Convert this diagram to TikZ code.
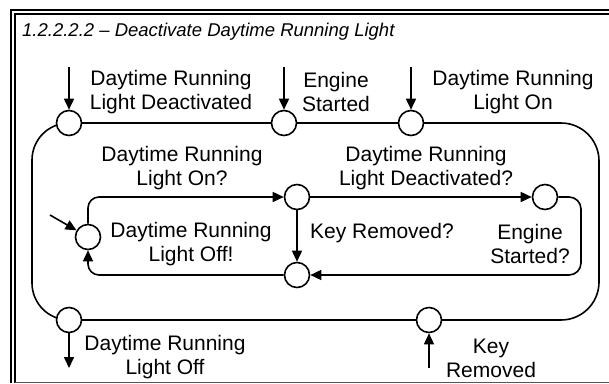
\documentclass[tikz,border=0pt]{standalone}
\usepackage{fontspec}
\setmainfont{Liberation Sans}
\usetikzlibrary{arrows.meta,backgrounds}
\definecolor{frameGray}{HTML}{555555}

\begin{document}
\begin{tikzpicture}[
    x=1pt, y=-1pt,
    st/.style={circle, draw, fill=white, line width=1.6pt, minimum size=25pt, inner sep=0pt},
    lbl/.style={font=\fontsize{21}{24}\selectfont, align=center, inner sep=0pt},
    flow/.style={line width=1.6pt, -{Triangle[length=11pt,width=10pt]}},
    wire/.style={line width=1.6pt},
]
\useasboundingbox (0,0) rectangle (609,383);
\draw[line width=1.8pt] (11,383) -- (11,10) -- (609,10);
\draw[line width=1.8pt] (15,383) -- (15,13.7) -- (609,13.7);
\draw[frameGray, line width=1pt] (15,382.3) -- (609,382.3);
\node[font={\fontsize{18.5}{21}\selectfont\itshape}, anchor=base west, inner sep=0pt] (title) at (22,36) {1.2.2.2.2 \textendash\ Deactivate Daytime Running Light};

\node[st] (dRLDeact) at (69,123) {};
\node[st] (engStart) at (284,123) {};
\node[st] (dRLOn) at (411,123) {};
\node[st] (dRLOff) at (69,320) {};
\node[st] (keyRem) at (429,320) {};
\node[st] (lightOff) at (88,237) {};
\node[st] (chkOn) at (297,197) {};
\node[st] (chkDeact) at (545,197) {};
\node[st] (chkKey) at (297,275) {};

\coordinate (inDeact) at (69,67);
\coordinate (inStart) at (284,67);
\coordinate (inOn) at (411,67);
\coordinate (outOff) at (69,368);
\coordinate (inKey) at (429,368);
\coordinate (init) at (50,215);

\begin{scope}[on background layer]
\draw[wire, rounded corners=38pt] (dRLDeact.center) -- (599,123) -- (599,320) -- (dRLOff.center);
\draw[wire, rounded corners=37pt] (dRLOff.center) -- (32,320) -- (32,123) -- (dRLDeact.center);
\end{scope}

\draw[flow] (inDeact) -- (dRLDeact);
\draw[flow] (inStart) -- (engStart);
\draw[flow] (inOn) -- (dRLOn);
\draw[flow] (dRLOff) -- (outOff);
\draw[flow] (inKey) -- (keyRem);

\draw[flow] (init) -- (lightOff);
\draw[flow, rounded corners=11pt] (lightOff) -- (lightOff |- chkOn) -- (chkOn);
\draw[flow] (chkOn) -- (chkDeact);
\draw[flow] (chkOn) -- (chkKey);
\draw[flow, rounded corners=12pt] (chkDeact) -- (581,197) -- (581,275) -- (chkKey);
\draw[flow, rounded corners=11pt] (chkKey) -- (lightOff |- chkKey) -- (lightOff);

\node[lbl] (lblDeact) at (171,92) {Daytime Running\\Light Deactivated};
\node[lbl] (lblStart) at (336,92) {Engine\\Started};
\node[lbl] (lblOn) at (513,92) {Daytime Running\\Light On};
\node[lbl] (lblOnQ) at (182,168) {Daytime Running\\Light On?};
\node[lbl] (lblDeactQ) at (426,168) {Daytime Running\\Light Deactivated?};
\node[lbl] (lblOffX) at (191,244) {Daytime Running\\Light Off!};
\node[lbl] (lblKeyQ) at (382,233) {Key Removed?};
\node[lbl] (lblStartQ) at (530,244) {Engine\\Started?};
\node[lbl] (lblOff) at (165,357) {Daytime Running\\Light Off};
\node[lbl] (lblKey) at (491,358) {Key\\Removed};
\end{tikzpicture}
\end{document}
